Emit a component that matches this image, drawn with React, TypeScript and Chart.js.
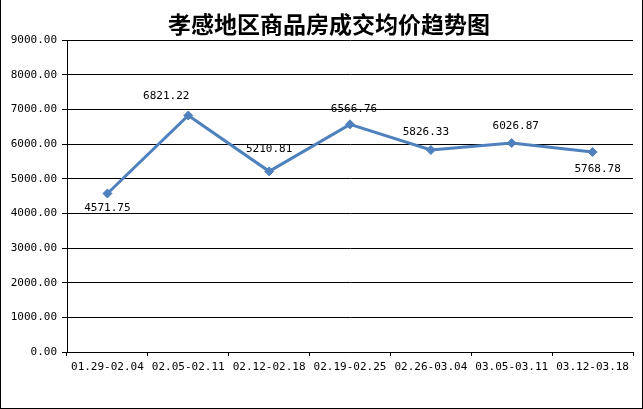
import React, { useEffect, useRef } from "react";
import { Chart, registerables } from "chart.js";

Chart.register(...registerables);

const titleText = "孝感地区商品房成交均价趋势图";
const categories = [
  "01.29-02.04",
  "02.05-02.11",
  "02.12-02.18",
  "02.19-02.25",
  "02.26-03.04",
  "03.05-03.11",
  "03.12-03.18",
];
const prices = [4571.75, 6821.22, 5210.81, 6566.76, 5826.33, 6026.87, 5768.78];
const yMin = 0;
const yMax = 9000;
const yStep = 1000;

// label placement (style): [dx, dy] relative to the point
const labelOffsets: [number, number][] = [
  [0, 15],
  [-22, -19],
  [0, -22],
  [4, -15],
  [-5, -18],
  [4, -17],
  [5, 17],
];

const MONO = '"DejaVu Sans Mono", "Liberation Mono", monospace';
const LINE_COLOR = "#4F81BD";

const decorPlugin = {
  id: "decor",
  afterDraw(chart: any) {
    const ctx = chart.ctx;
    ctx.save();
    // frame
    ctx.fillStyle = "#000";
    ctx.fillRect(0, 0, 1, chart.height);
    ctx.fillRect(chart.width - 1, 0, 1, chart.height);
    ctx.fillRect(0, chart.height - 1, chart.width, 1);
    // title
    ctx.font = 'bold 23px "Noto Sans CJK SC", sans-serif';
    ctx.textAlign = "center";
    ctx.textBaseline = "middle";
    ctx.fillStyle = "#000";
    ctx.fillText(titleText, 329, 24);
    // data labels
    const meta = chart.getDatasetMeta(0);
    ctx.font = "11px " + MONO;
    meta.data.forEach((pt: any, i: number) => {
      const v = chart.data.datasets[0].data[i] as number;
      const [dx, dy] = labelOffsets[i] || [0, -18];
      ctx.fillText(v.toFixed(2), pt.x + dx, pt.y + dy);
    });
    ctx.restore();
  },
};

export default function App() {
  const ref = useRef<HTMLCanvasElement>(null);
  useEffect(() => {
    document.body.style.margin = "0";
    const chart = new Chart(ref.current!, {
      type: "line",
      data: {
        labels: categories,
        datasets: [
          {
            data: prices,
            borderColor: LINE_COLOR,
            backgroundColor: LINE_COLOR,
            borderWidth: 3,
            pointStyle: "rectRot",
            pointRadius: 4.5,
            pointBackgroundColor: LINE_COLOR,
            pointBorderColor: LINE_COLOR,
            pointBorderWidth: 1,
            tension: 0,
            fill: false,
          },
        ],
      },
      options: {
        responsive: false,
        animation: false,
        devicePixelRatio: 1,
        layout: { padding: { top: 40, right: 10, bottom: 0, left: 0 } },
        plugins: {
          legend: { display: false },
          title: { display: false },
          tooltip: { enabled: false },
        },
        scales: {
          x: {
            type: "category",
            offset: true,
            grid: {
              offset: true,
              drawOnChartArea: false,
              drawTicks: true,
              tickLength: 4,
              color: "#000",
              lineWidth: 1,
            },
            border: { display: true, color: "#000", width: 1 },
            ticks: {
              autoSkip: false,
              maxRotation: 0,
              minRotation: 0,
              color: "#000",
              padding: 5,
              font: { family: MONO, size: 11 },
            },
            afterFit(scale: any) {
              scale.height = 57;
            },
          },
          y: {
            min: yMin,
            max: yMax,
            grid: {
              color: "#000",
              lineWidth: 1,
              drawTicks: true,
              tickLength: 5,
            },
            border: { display: true, color: "#000", width: 1 },
            ticks: {
              stepSize: yStep,
              color: "#000",
              padding: 5,
              font: { family: MONO, size: 11 },
              callback: (v: any) => Number(v).toFixed(2),
            },
            afterFit(scale: any) {
              scale.width = 67;
            },
          },
        },
      },
      plugins: [decorPlugin],
    });
    return () => chart.destroy();
  }, []);
  return (
    <div style={{ position: "fixed", left: 0, top: 0, width: 643, height: 409, background: "#fff" }}>
      <canvas ref={ref} width={643} height={409} style={{ display: "block" }} />
    </div>
  );
}
